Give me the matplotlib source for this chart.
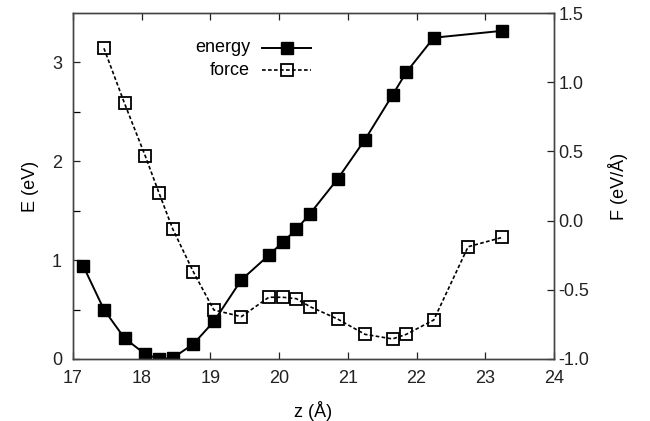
import numpy as np
import matplotlib
matplotlib.use('Agg')
import matplotlib.pyplot as plt
from matplotlib.lines import Line2D

plt.rcParams['font.family'] = ['Liberation Sans', 'DejaVu Sans']

# エネルギー (eV)
z_e = [17.15, 17.45, 17.75, 18.05, 18.25, 18.45, 18.75, 19.05, 19.45, 19.85,
       20.05, 20.25, 20.45, 20.85, 21.25, 21.65, 21.85, 22.25, 23.25]
energy = [0.94, 0.50, 0.21, 0.05, 0.00, 0.01, 0.15, 0.38, 0.80, 1.05,
          1.18, 1.31, 1.47, 1.82, 2.22, 2.67, 2.90, 3.25, 3.32]

# 力 (eV/Å)
z_f = [17.45, 17.75, 18.05, 18.25, 18.45, 18.75, 19.05, 19.45, 19.85, 20.05,
       20.25, 20.45, 20.85, 21.25, 21.65, 21.85, 22.25, 22.75, 23.25]
force = [1.245, 0.847, 0.469, 0.202, -0.059, -0.369, -0.646, -0.694, -0.554, -0.554,
         -0.564, -0.622, -0.711, -0.822, -0.855, -0.822, -0.718, -0.189, -0.121]

fig = plt.figure(figsize=(6.5, 4.21), dpi=100)
ax = fig.add_axes([0.1123, 0.1473, 0.74, 0.8218])
ax2 = ax.twinx()

ax.plot(z_e, energy, '-', color='black', lw=1.4, marker='s', ms=8.5,
        mfc='black', mec='black')
ax2.plot(z_f, force, color='black', lw=1.2, ls=(0, (2.2, 1.4)), marker='s', ms=8.5,
         mfc='none', mec='black', mew=1.3)

ax.set_xlim(17, 24)
ax.set_ylim(0, 3.5)
ax2.set_ylim(-1.0, 1.5)

ax.set_xticks(np.arange(17, 25, 1))
ax.set_yticks([0, 1, 2, 3])
ax.set_yticks([0.5, 1.5, 2.5], minor=True)
ax2.set_yticks(np.arange(-1.0, 1.51, 0.5))
ax2.set_yticklabels(['-1.0', '-0.5', '0.0', '0.5', '1.0', '1.5'])

for a in (ax, ax2):
    a.tick_params(direction='in', length=5, width=0.9, labelsize=13, colors='#222222')
    a.tick_params(which='minor', direction='in', length=5, width=0.9)
    for s in a.spines.values():
        s.set_linewidth(1.0)
        s.set_color('#444444')
ax.tick_params(axis='x', top=True, pad=8)
ax.tick_params(axis='y', left=True, right=False, pad=8)
ax2.tick_params(axis='y', pad=3)

ax.set_xlabel('z (Å)', fontsize=13, labelpad=10)
ax.set_ylabel('E (eV)', fontsize=13, labelpad=9)
ax2.set_ylabel('F (eV/Å)', fontsize=13, labelpad=14)

# 凡例 (右寄せ)
ax.text(0.368, 0.899, 'energy', transform=ax.transAxes, ha='right', va='center', fontsize=13)
ax.text(0.368, 0.835, 'force', transform=ax.transAxes, ha='right', va='center', fontsize=13)
ax.add_line(Line2D([0.393, 0.445, 0.495], [0.899, 0.899, 0.899], transform=ax.transAxes,
                   color='black', lw=1.4, marker='s', ms=8.5, markevery=[1], mfc='black'))
ax.add_line(Line2D([0.393, 0.445, 0.495], [0.835, 0.835, 0.835], transform=ax.transAxes,
                   color='black', lw=1.2, ls=(0, (2.2, 1.4)), marker='s', ms=8.5,
                   markevery=[1], mfc='none', mew=1.3))

fig.savefig('out.png', dpi=100)
